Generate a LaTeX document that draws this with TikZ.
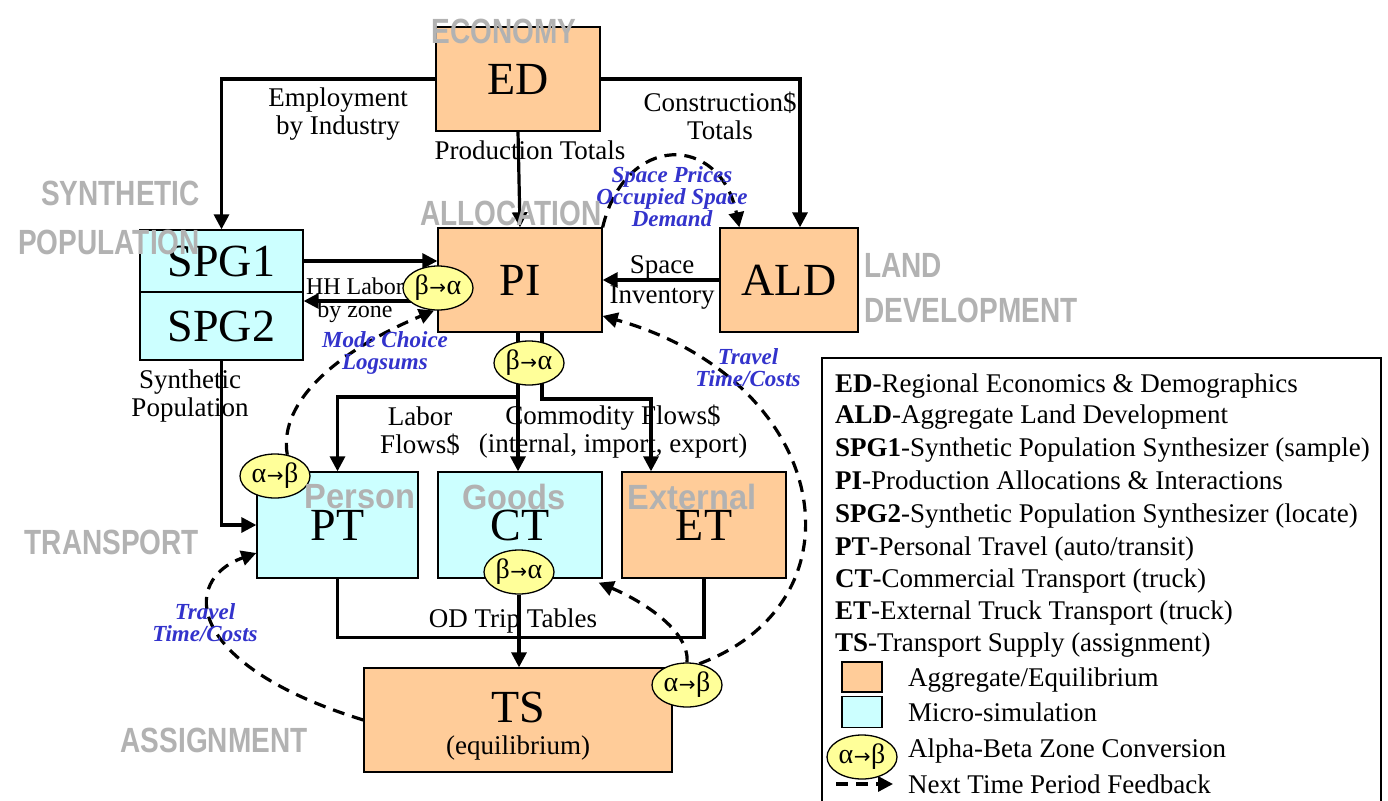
\documentclass[tikz,border=0pt]{standalone}
\usepackage{fontspec}
\setmainfont{Liberation Serif}
\newfontfamily\zonefont[FakeStretch=0.8]{Liberation Sans}
\newfontfamily\zonewidefont[FakeStretch=0.93]{Liberation Sans}
\newfontfamily\arrowfont{DejaVu Sans}
\usetikzlibrary{arrows.meta,positioning,shapes.geometric,backgrounds}

\definecolor{aggfill}{HTML}{FFCC99}
\definecolor{microfill}{HTML}{CCFFFF}
\definecolor{convfill}{HTML}{FFFF99}
\definecolor{zonegray}{HTML}{B2B2B2}
\definecolor{feedblue}{HTML}{3333CC}

\newcommand{\fntbody}{\fontsize{27}{28}\selectfont}
\newcommand{\fntsmall}{\fontsize{24}{23}\selectfont}
\newcommand{\fntbig}{\fontsize{46}{50}\selectfont}
\newcommand{\fntfeed}{\fontsize{23}{22}\selectfont\bfseries\itshape}
\newcommand{\fntzone}{\zonefont\bfseries\fontsize{35}{47}\selectfont}
\newcommand{\fntzonewide}{\zonewidefont\bfseries\fontsize{35}{47}\selectfont}
\newcommand{\fntconv}{\fontsize{28}{28}\selectfont}
\newcommand{\btoa}{β\kern0.5pt{\arrowfont\fontsize{20}{20}\selectfont →}\kern0.5pt α}
\newcommand{\atob}{α\kern0.5pt{\arrowfont\fontsize{20}{20}\selectfont →}\kern0.5pt β}

\begin{document}
\begin{tikzpicture}[x=1pt, y=-1pt,
    agg/.style={draw, line width=1.3pt, fill=aggfill, inner sep=0pt, font=\fntbig},
    micro/.style={draw, line width=1.3pt, fill=microfill, inner sep=0pt, font=\fntbig},
    conv/.style={ellipse, draw, line width=1.3pt, fill=convfill, minimum width=70pt, minimum height=44pt, inner sep=0pt, font=\fntconv},
    flow/.style={line width=3.2pt, -{Triangle[length=15pt,width=15pt]}},
    link/.style={line width=3.2pt},
    feed/.style={line width=3.2pt, dash pattern=on 12pt off 8pt, -{Triangle[length=15pt,width=15pt]}},
    lbl/.style={font=\fntbody, align=center, inner sep=0pt},
    feedlbl/.style={font=\fntfeed, text=feedblue, align=center, inner sep=0pt},
    zone/.style={font=\fntzone, text=zonegray, inner sep=0pt},
    legtext/.style={font=\fntbody, anchor=base west, inner sep=0pt}]
    \useasboundingbox (0,0) rectangle (1388,800);

    % Economy and allocation
    \node[agg, minimum width=164pt, minimum height=104pt] (ed) at (518,79) {ED};
    \node[agg, minimum width=164pt, minimum height=104pt] (pi) at (520,280) {PI};
    \node[agg, minimum width=138pt, minimum height=104pt] (ald) at (789,280) {ALD};

    % Synthetic population
    \node[micro, minimum width=163pt, minimum height=62pt] (spgone) at (221.5,261) {SPG1};
    \node[micro, minimum width=163pt, minimum height=68pt] (spgtwo) at (221.5,326) {SPG2};

    % Transport
    \node[micro, minimum width=161pt, minimum height=106pt] (pt) at (337.5,525) {PT};
    \node[micro, minimum width=164pt, minimum height=106pt] (ct) at (520,525) {CT};
    \node[agg, minimum width=164pt, minimum height=106pt] (et) at (704,525) {ET};

    % Assignment
    \node[agg, minimum width=308pt, minimum height=104pt] (ts) at (518,720) {};
    \node[font=\fntbig, inner sep=0pt] (tsname) at (518,707) {TS};
    \node[lbl] (tsmode) at (518,748) {(equilibrium)};

    % Zone conversions
    \node[conv] (piconv) at (438,288) {\btoa};
    \node[conv] (pidown) at (529,363) {\btoa};
    \node[conv] (ptconv) at (275,476) {\atob};
    \node[conv] (ctconv) at (519,572) {\btoa};
    \node[conv] (tsconv) at (687,685) {\atob};

    \coordinate (labsplit) at (518,397);
    \coordinate (comturn) at (651,399);

    \begin{scope}[on background layer]
        \fill[white] (0,0) rectangle (1388,800);

        % Flows
        \draw[flow] (ed.west) -| (spgone.north);
        \draw[flow] (ed.east) -| ([xshift=11pt]ald.north);
        \draw[flow] (ed.south) -- (pi.north);
        \draw[flow] (spgone.east) -- (spgone.east -| pi.west);
        \draw[flow] ([yshift=-13pt]piconv.center) -- ([yshift=-13pt]piconv.center -| spgtwo.east);
        \draw[flow] (ald.west) -- (pi.east);
        \draw[flow] ([xshift=-2pt]pi.south) -- ([xshift=-2pt]pi.south |- ct.north);
        \draw[flow] (labsplit) -| (pt.north);
        \draw[flow] ([xshift=22pt]pi.south) |- (comturn) -- (comturn |- et.north);
        \draw[flow] (spgtwo.south) |- (pt.west);
        \draw[link] (pt.south) -- ++(0,59) -| (et.south);
        \draw[flow] (ctconv.south) -- (ctconv.south |- ts.north);

        % Next time period feedback
        \draw[feed] (pi.north east) .. controls (625,133) and (720,133) .. ([xshift=20pt]ald.north west);
        \draw[feed] (ptconv.60) .. controls (278,400) and (340,350) .. (piconv.260);
        \draw[feed] (tsconv.60) .. controls (870,600) and (830,380) .. ([yshift=-36pt]pi.east);
        \draw[feed] (tsconv.north) .. controls (690,630) and (640,600) .. ([shift={(-4pt,-4pt)}]ct.south east);
        \draw[feed] (ts.west) .. controls (185,665) and (180,580) .. ([yshift=-28pt]pt.west);
    \end{scope}

    % Flow labels
    \node[lbl] (emplbl) at (338,114) {Employment\\by Industry};
    \node[lbl] (conslbl) at (720,116) {Construction\$\\Totals};
    \node[lbl] (prodlbl) at (530,150) {Production Totals};
    \node[lbl, font=\fntsmall] (hhlbl) at (355,300) {HH Labor\\by zone};
    \node[lbl] (spacelbl) at (662,282) {Space\\[2pt]Inventory};
    \node[lbl] (synlbl) at (190,396) {Synthetic\\Population};
    \node[lbl] (laborlbl) at (420,431) {Labor\\Flows\$};
    \node[lbl] (commlbl) at (613,432) {Commodity Flows\$\\(internal, import, export)};
    \node[lbl] (odlbl) at (513,621) {OD Trip Tables};

    % Feedback labels
    \node[feedlbl] (pricelbl) at (672,197) {Space Prices\\Occupied Space\\Demand};
    \node[feedlbl] (modelbl) at (385,353) {Mode Choice\\Logsums};
    \node[feedlbl] (travelpi) at (748,368) {Travel\\Time/Costs};
    \node[feedlbl] (travelpt) at (205,623) {Travel\\Time/Costs};

    % Model areas
    \node[zone] (economy) at (504,31) {ECONOMY};
    \node[zone] (allocation) at (511,213) {ALLOCATION};
    \node[zone, align=right, anchor=east] (synpop) at (200,218) {SYNTHETIC\\[2pt]POPULATION};
    \node[zone, align=left, anchor=west] (landdev) at (864,288) {LAND\\[-2pt]DEVELOPMENT};
    \node[zone] (transport) at (112,542) {TRANSPORT};
    \node[zone] (assignment) at (214,740) {ASSIGNMENT};
    \node[zone, font=\fntzonewide] (person) at (360,497) {Person};
    \node[zone, font=\fntzonewide] (goods) at (514,497) {Goods};
    \node[zone, font=\fntzonewide] (external) at (692,497) {External};

    % Legend
    \draw[line width=1.3pt] (822,358) rectangle (1381,812);
    \node[legtext] (leged) at (835,392) {\textbf{ED}-Regional Economics \& Demographics};
    \node[legtext] (legald) at (835,423) {\textbf{ALD}-Aggregate Land Development};
    \node[legtext] (legspgone) at (835,456) {\textbf{SPG1}-Synthetic Population Synthesizer (sample)};
    \node[legtext] (legpi) at (835,489) {\textbf{PI}-Production Allocations \& Interactions};
    \node[legtext] (legspgtwo) at (835,522) {\textbf{SPG2}-Synthetic Population Synthesizer (locate)};
    \node[legtext] (legpt) at (835,555) {\textbf{PT}-Personal Travel (auto/transit)};
    \node[legtext] (legct) at (835,587) {\textbf{CT}-Commercial Transport (truck)};
    \node[legtext] (leget) at (835,619) {\textbf{ET}-External Truck Transport (truck)};
    \node[legtext] (legts) at (835,651) {\textbf{TS}-Transport Supply (assignment)};
    \node[agg, minimum width=40pt, minimum height=30pt] (legagg) at (862,677) {};
    \node[micro, minimum width=40pt, minimum height=31pt] (legmicro) at (862,712) {};
    \node[conv] (legconv) at (862,757) {\atob};
    \coordinate (legfeed) at (836,784);
    \draw[feed] (legfeed) -- ++(57,0);
    \node[legtext] (legagglbl) at (908,686) {Aggregate/Equilibrium};
    \node[legtext] (legmicrolbl) at (908,721) {Micro-simulation};
    \node[legtext] (legconvlbl) at (908,757) {Alpha-Beta Zone Conversion};
    \node[legtext] (legfeedlbl) at (908,793) {Next Time Period Feedback};
\end{tikzpicture}
\end{document}
